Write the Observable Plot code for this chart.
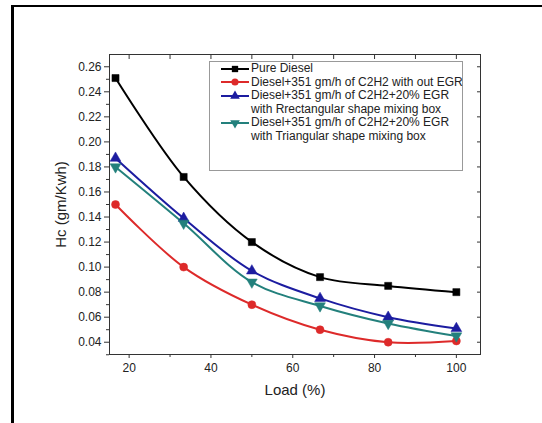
<!DOCTYPE html>
<html>
<head>
<meta charset="utf-8">
<script src="https://cdn.jsdelivr.net/npm/d3@7"></script>
<script src="https://cdn.jsdelivr.net/npm/@observablehq/plot@0.6"></script>
<style>
  html, body { margin: 0; padding: 0; background: #fff; }
  #wrap { position: relative; width: 542px; height: 423px; overflow: hidden; font-family: "Liberation Sans", Arial, sans-serif; }
  #border { position: absolute; left: 11px; top: 5px; right: -5px; bottom: -5px; border-left: 3px solid #000; border-top: 2px solid #000; }
  #legend { position: absolute; left: 209px; top: 61px; width: 252px; height: 108px; border: 1px solid #999; background: #fff; font-size: 12px; color: #222; }
  .row { display: flex; align-items: center; height: 13.6px; line-height: 13.6px; white-space: nowrap; }
  .row svg { margin-left: 11px; margin-right: 2px; flex: none; }
  .cont { padding-left: 41px; height: 13.6px; line-height: 13.6px; white-space: nowrap; }
</style>
</head>
<body>
<div id="wrap"><div id="border"></div><div id="chart"></div><div id="legend"></div></div>
<script>
const loads = [16.67, 33.33, 50, 66.67, 83.33, 100];
const pureDiesel = [0.251, 0.172, 0.120, 0.092, 0.085, 0.080];
const noEGR = [0.150, 0.100, 0.070, 0.050, 0.040, 0.041];
const rectEGR = [0.187, 0.139, 0.097, 0.075, 0.060, 0.051];
const triEGR = [0.180, 0.135, 0.088, 0.069, 0.055, 0.045];

const seriesNames = [
  ["Pure Diesel"],
  ["Diesel+351 gm/h of C2H2 with out EGR"],
  ["Diesel+351 gm/h of C2H2+20% EGR", "with Rrectangular shape mixing box"],
  ["Diesel+351 gm/h of C2H2+20% EGR", "with Triangular shape mixing box"]
];
const seriesColors = ["#000000", "#dd2a2a", "#1c1ca0", "#23807c"];
const seriesSymbols = ["square", "circle", "triangle", "triangle"];
const seriesRotate = [0, 0, 0, 180];
const seriesValues = [pureDiesel, noEGR, rectEGR, triEGR];

const xTicks = [20, 40, 60, 80, 100];
const xMinor = [30, 50, 70, 90];
const xTop = [20, 30, 40, 50, 60, 70, 80, 90, 100];
const yTicks = [0.04, 0.06, 0.08, 0.10, 0.12, 0.14, 0.16, 0.18, 0.20, 0.22, 0.24, 0.26];
const yMinor = [0.03, 0.05, 0.07, 0.09, 0.11, 0.13, 0.15, 0.17, 0.19, 0.21, 0.23, 0.25];

const data = [];
seriesValues.forEach((vals, s) => vals.forEach((v, i) => data.push({s, x: loads[i], y: v})));

const d3Symbols = {square: d3.symbolSquare, circle: d3.symbolCircle, triangle: d3.symbolTriangle};
const blank = () => "";

const chart = Plot.plot({
  width: 542, height: 423,
  marginLeft: 109, marginRight: 62, marginTop: 54, marginBottom: 69,
  style: {fontFamily: '"Liberation Sans", Arial, sans-serif', fontSize: "12px", color: "#222", background: "transparent"},
  x: {domain: [15.2, 105.9]},
  y: {domain: [0.0302, 0.2698]},
  color: {domain: [0, 1, 2, 3], range: seriesColors},
  marks: [
    Plot.frame({stroke: "#333", strokeWidth: 1}),
    Plot.axisY({ticks: yMinor, tickSize: 3, tickFormat: blank, label: null, stroke: "#333"}),
    Plot.axisY({ticks: yTicks, tickSize: 5, tickPadding: 3, tickFormat: d => d.toFixed(2), label: "Hc (gm/Kwh)", labelAnchor: "center", labelArrow: "none", labelOffset: 54, stroke: "#333"}),
    Plot.axisY({anchor: "right", ticks: yTicks, tickSize: -4, tickFormat: blank, label: null, stroke: "#333"}),
    Plot.axisX({ticks: xMinor, tickSize: 3, tickFormat: blank, label: null, stroke: "#333"}),
    Plot.axisX({ticks: xTicks, tickSize: 4, tickPadding: 5, tickFormat: d => String(d), label: "Load (%)", labelAnchor: "center", labelArrow: "none", labelOffset: 40, stroke: "#333"}),
    Plot.axisX({anchor: "top", ticks: xTop, tickSize: -4, tickFormat: blank, label: null, stroke: "#333"}),
    Plot.line(data, {x: "x", y: "y", z: "s", stroke: "s", strokeWidth: 2, curve: "catmull-rom"}),
    Plot.dot(data, {x: "x", y: "y", fill: "s", stroke: "s", strokeWidth: 0.5, r: 4, symbol: d => seriesSymbols[d.s], rotate: d => seriesRotate[d.s]})
  ]
});
chart.style.position = "absolute";
chart.style.left = "0px";
chart.style.top = "0px";
d3.select(chart).selectAll("g[aria-label='y-axis label'] text, g[aria-label='x-axis label'] text").style("font-size", "15px");
document.getElementById("chart").appendChild(chart);

const legend = d3.select("#legend");
seriesNames.forEach((lines, s) => {
  const row = legend.append("div").attr("class", "row");
  const svg = row.append("svg").attr("width", 28).attr("height", 12);
  svg.append("line").attr("x1", 0).attr("x2", 28).attr("y1", 6).attr("y2", 6).attr("stroke", seriesColors[s]).attr("stroke-width", 2);
  svg.append("path").attr("transform", `translate(14,6) rotate(${seriesRotate[s]})`)
    .attr("d", d3.symbol(d3Symbols[seriesSymbols[s]], 40)())
    .attr("fill", seriesColors[s]);
  row.append("span").text(lines[0]);
  for (let k = 1; k < lines.length; k++) legend.append("div").attr("class", "cont").text(lines[k]);
});
</script>
</body>
</html>
